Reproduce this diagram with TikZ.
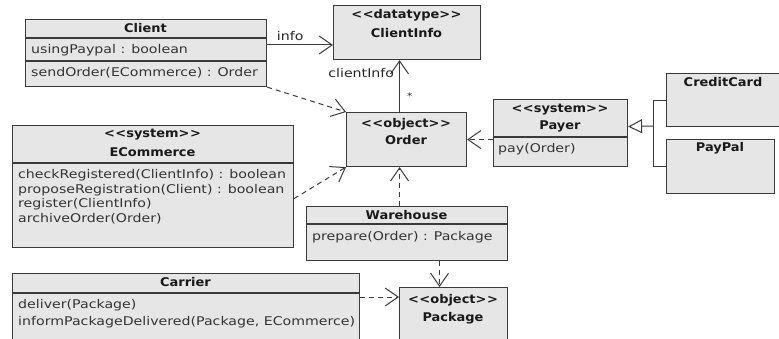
\documentclass[tikz,border=0pt]{standalone}
\usepackage{fontspec}
\setmainfont{DejaVu Sans}[FakeStretch=1.18, BoldFeatures={FakeStretch=1.08}]
\usetikzlibrary{arrows.meta,calc}

\definecolor{boxfill}{HTML}{E6E6E6}
\definecolor{boxline}{HTML}{3A3A3A}
\definecolor{membertext}{HTML}{333333}

% stereotype brackets, kept apart so they do not turn into guillemets
\newcommand\stereo[1]{<\kern0.5pt<#1>\kern0.5pt>}

\tikzset{
  cls/.style={draw=boxline, fill=boxfill, line width=1.1pt, anchor=north west, inner sep=0pt},
  ttl/.style={font=\fontsize{12}{14}\selectfont\bfseries, text=black!90, inner sep=0pt},
  mbr/.style={font=\fontsize{12}{14}\selectfont, text=membertext, anchor=west, inner sep=0pt},
  div/.style={draw=boxline, line width=1.1pt},
  assoc/.style={draw=boxline, line width=1pt, -{Straight Barb[length=13pt,width=18pt]}},
  dep/.style={assoc, dash pattern=on 5pt off 4pt},
  gen/.style={draw=boxline, line width=1pt},
  lbl/.style={font=\fontsize{12}{14}\selectfont, text=black!85, inner sep=1pt}
}

\begin{document}
\begin{tikzpicture}[x=1pt,y=-1pt]
\useasboundingbox (0,0) rectangle (779,339);

% Client
\node[cls, minimum width=241, minimum height=67] (client) at (25,19) {};
\node[ttl] (client-t) at (145.5,28.5) {Client};
\draw[div] (25,38) -- (266,38);
\draw[div] (25,61) -- (266,61);
\node[mbr] (client-a) at (31,50) {usingPaypal : boolean};
\node[mbr] (client-o) at (31,73) {sendOrder(ECommerce) : Order};

% ClientInfo
\node[cls, minimum width=147, minimum height=54] (clientinfo) at (333,5) {};
\node[ttl] (clientinfo-s) at (406.5,15.5) {\stereo{datatype}};
\node[ttl] (clientinfo-t) at (406.5,33) {ClientInfo};

% Order
\node[cls, minimum width=120, minimum height=54] (order) at (346,112) {};
\node[ttl] (order-s) at (406,124) {\stereo{object}};
\node[ttl] (order-t) at (406,140) {Order};

% Payer
\node[cls, minimum width=134, minimum height=67] (payer) at (493,99) {};
\node[ttl] (payer-s) at (560,109.5) {\stereo{system}};
\node[ttl] (payer-t) at (560,126) {Payer};
\draw[div] (493,137) -- (627,137);
\node[mbr] (payer-o) at (498,149) {pay(Order)};

% CreditCard, PayPal
\node[cls, minimum width=115, minimum height=53] (creditcard) at (666,73) {};
\node[ttl] (creditcard-t) at (723,82) {CreditCard};
\node[cls, minimum width=108, minimum height=54] (paypal) at (666,139) {};
\node[ttl] (paypal-t) at (720,148) {PayPal};

% ECommerce
\node[cls, minimum width=281, minimum height=122] (ecommerce) at (12,125) {};
\node[ttl] (ecommerce-s) at (152.5,135) {\stereo{system}};
\node[ttl] (ecommerce-t) at (152.5,152) {ECommerce};
\draw[div] (12,163) -- (293,163);
\node[mbr] (ecommerce-o1) at (18,175) {checkRegistered(ClientInfo) : boolean};
\node[mbr] (ecommerce-o2) at (18,190) {proposeRegistration(Client) : boolean};
\node[mbr] (ecommerce-o3) at (18,204.5) {register(ClientInfo)};
\node[mbr] (ecommerce-o4) at (18,219) {archiveOrder(Order)};

% Warehouse
\node[cls, minimum width=201, minimum height=54] (warehouse) at (306,206) {};
\node[ttl] (warehouse-t) at (406.5,215) {Warehouse};
\draw[div] (306,224) -- (507,224);
\node[mbr] (warehouse-o) at (312,237) {prepare(Order) : Package};

% Carrier
\node[cls, minimum width=347, minimum height=80] (carrier) at (12,273) {};
\node[ttl] (carrier-t) at (185.5,282.5) {Carrier};
\draw[div] (12,293) -- (359,293);
\node[mbr] (carrier-o1) at (18,305) {deliver(Package)};
\node[mbr] (carrier-o2) at (18,322) {informPackageDelivered(Package, ECommerce)};

% Package
\node[cls, minimum width=108, minimum height=66] (package) at (399,287) {};
\node[ttl] (package-s) at (453,300) {\stereo{object}};
\node[ttl] (package-t) at (453,318) {Package};

% associations
\draw[assoc] ([yshift=-26pt]client.north east) -- ([yshift=-26pt]client.north east -| clientinfo.west)
  node[lbl, pos=0.35, above=3pt] {info};
\draw[assoc] ([xshift=-7pt]order.north) -- ([xshift=-7pt]order.north |- clientinfo.south)
  node[lbl, pos=0.76, left=4pt] {clientInfo}
  node[lbl, pos=0.3, right=6pt, font=\fontsize{9}{10}\selectfont] {*};

% dependencies
\draw[dep] (client.south east) -- (order.north west);
\draw[dep] ([yshift=-12pt]ecommerce.east) -- (order.south west);
\draw[dep] ([xshift=-7pt]order.south |- warehouse.north) -- ([xshift=-7pt]order.south);
\draw[dep] ([xshift=-14pt]package.north |- warehouse.south) -- ([xshift=-14pt]package.north);
\draw[dep] ([yshift=-10pt]package.north west -| carrier.east) -- ([yshift=-10pt]package.north west);
\draw[dep] (payer.west |- order.east) -- (order.east);

% generalization
\coordinate (join) at (653,126);
\draw[gen] (creditcard.west) -| (join);
\draw[gen] (paypal.west) -| (join);
\draw[gen, -{Triangle[open, length=14pt, width=14pt, fill=white]}] (join) -- ([yshift=6.5pt]payer.east);
\end{tikzpicture}
\end{document}
